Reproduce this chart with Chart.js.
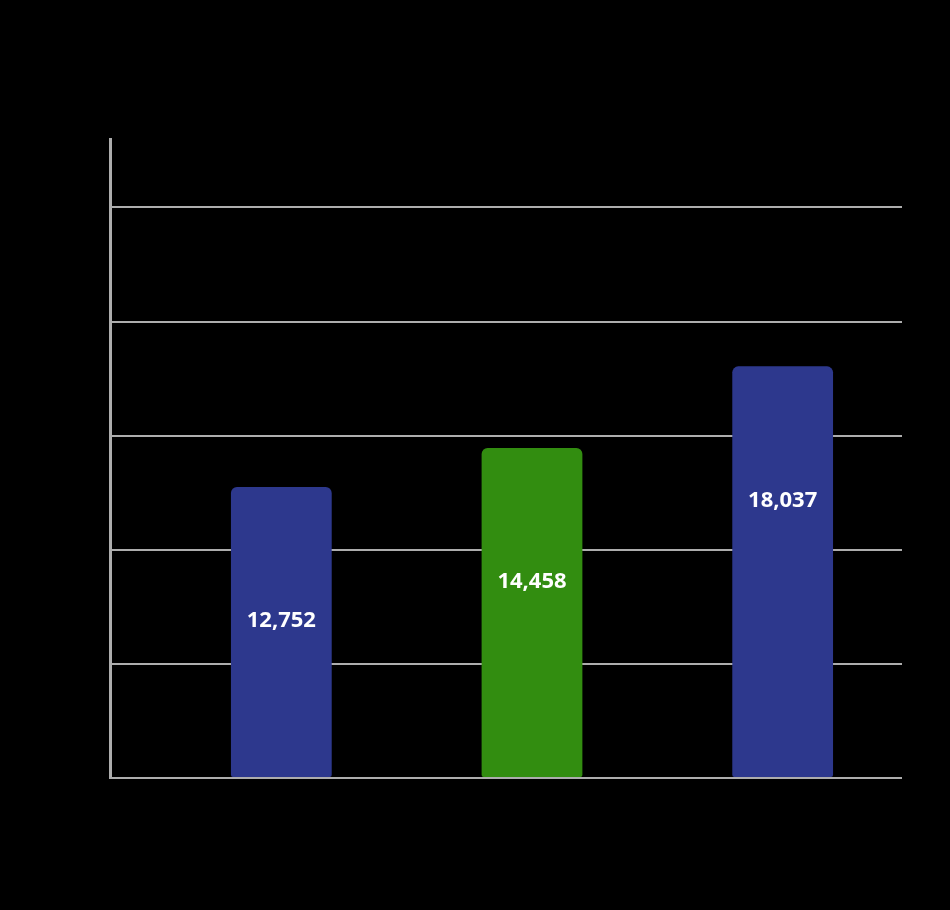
<!DOCTYPE html>
<html>
<head>
<meta charset="utf-8">
<script src="https://cdn.jsdelivr.net/npm/chart.js@4"></script>
<style>
  html, body { margin: 0; padding: 0; background: #000; }
  #wrap { width: 950px; height: 910px; }
</style>
</head>
<body>
<div id="wrap"><canvas id="barChart" width="950" height="910"></canvas></div>
<script>
// chart data
const categories = ['Bar 1', 'Bar 2', 'Bar 3'];
const values = [12752, 14458, 18037];
const barColors = ['#2d388d', '#328d10', '#2d388d'];
const yTicks = [0, 5000, 10000, 15000, 20000, 25000, 28000];
const yMax = 28000;

// white value labels drawn inside each bar
const valueLabels = {
    id: 'valueLabels',
    afterDatasetsDraw(chart) {
        const ctx = chart.ctx;
        const meta = chart.getDatasetMeta(0);
        ctx.save();
        ctx.fillStyle = '#ffffff';
        ctx.font = '700 22px "Open Sans", sans-serif';
        ctx.textAlign = 'center';
        ctx.textBaseline = 'middle';
        meta.data.forEach((bar, i) => {
            ctx.fillText(values[i].toLocaleString('en-US'), bar.x, bar.y + 134);
        });
        ctx.restore();
    }
};

// the bars sit a bit to the right of the plot area, so shift the category band
const shiftCategories = {
    id: 'shiftCategories',
    afterLayout(chart) {
        const xs = chart.scales.x;
        const area = chart.chartArea;
        xs.left = area.left + 46;
        xs.right = area.right + 6;
        xs.width = xs.right - xs.left;
        xs.configure();
    }
};

document.addEventListener('DOMContentLoaded', function() {
    const ctx = document.getElementById('barChart').getContext('2d');
    new Chart(ctx, {
        type: 'bar',
        data: {
            labels: categories,
            datasets: [{
                data: values,
                backgroundColor: barColors,
                borderWidth: 0,
                borderSkipped: false,
                borderRadius: { topLeft: 6, topRight: 6, bottomLeft: 2, bottomRight: 2 },
                categoryPercentage: 1,
                barPercentage: 0.402
            }]
        },
        options: {
            responsive: false,
            animation: false,
            layout: { padding: { top: 139, right: 48, bottom: 0, left: 0 } },
            plugins: {
                legend: { display: false },
                tooltip: { enabled: false }
            },
            scales: {
                x: {
                    grid: { display: false },
                    border: { display: false },
                    ticks: { display: false },
                    afterFit: scale => { scale.height = 132; }
                },
                y: {
                    min: 0,
                    max: yMax,
                    grid: {
                        color: c => c.tick && c.tick.value === yMax ? 'rgba(0,0,0,0)' : '#adadad',
                        lineWidth: 2,
                        drawTicks: false
                    },
                    border: { display: true, color: '#adadad', width: 3 },
                    ticks: { display: false },
                    afterBuildTicks: scale => { scale.ticks = yTicks.map(v => ({ value: v })); },
                    afterFit: scale => { scale.width = 110; }
                }
            }
        },
        plugins: [valueLabels, shiftCategories]
    });
});
</script>
</body>
</html>
